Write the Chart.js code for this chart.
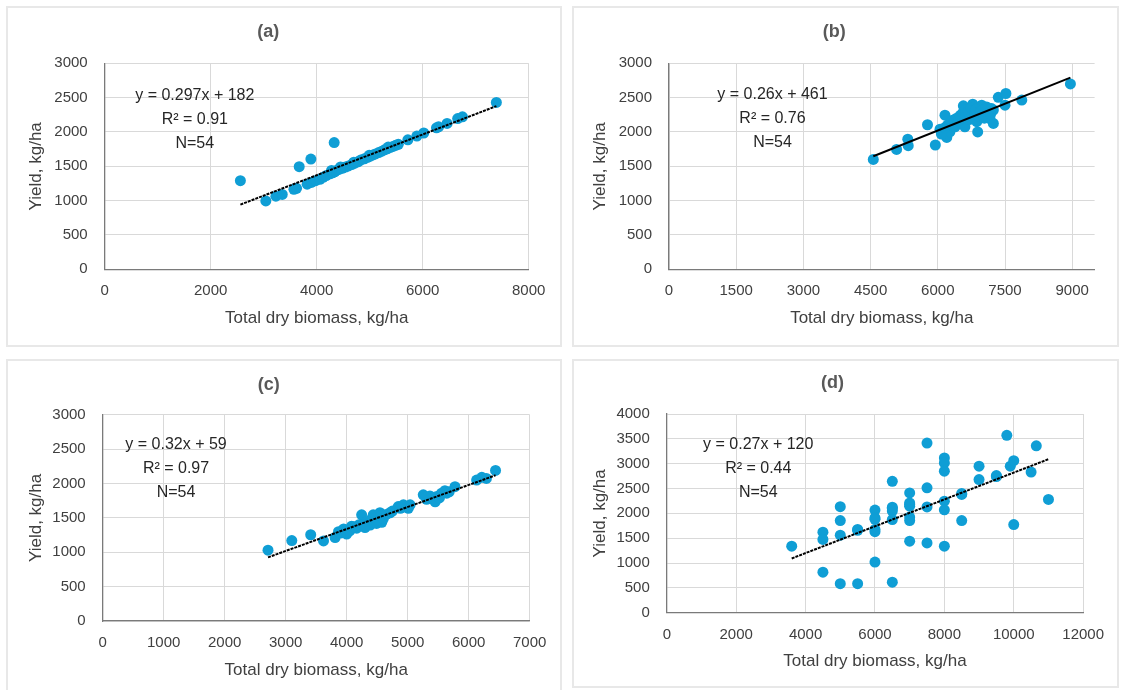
<!DOCTYPE html>
<html>
<head>
<meta charset="utf-8">
<script src="https://cdn.jsdelivr.net/npm/chart.js"></script>
<style>
body { margin:0; background:#fff; width:1121px; height:690px; overflow:hidden; position:relative; }
.panel { position:absolute; border:2px solid #e8e8e8; box-sizing:border-box; }
.panel canvas { display:block; }
</style>
</head>
<body>
<div class="panel" style="left:6px;top:6px;width:556px;height:341px"><canvas id="chartA" width="552" height="337"></canvas></div>
<div class="panel" style="left:572px;top:6px;width:547px;height:341px"><canvas id="chartB" width="543" height="337"></canvas></div>
<div class="panel" style="left:6px;top:359px;width:556px;height:340px"><canvas id="chartC" width="552" height="336"></canvas></div>
<div class="panel" style="left:572px;top:359px;width:547px;height:329px"><canvas id="chartD" width="543" height="325"></canvas></div>
<script>
// panel (a)
const aBiomass = [2560,3040,3230,3350,3570,3620,3670,3890,4330,3820,3900,3980,4060,4120,4180,4250,4300,4340,4370,4420,
  4480,4540,4600,4660,4720,4780,4830,4900,4960,5010,5060,5110,5170,5230,5280,5330,5390,5440,5490,5540,
  5720,5890,6020,6260,6300,6460,6660,6750,7390,4280,4450,4700,4990,5350];
const aYield = [1290,995,1065,1090,1165,1180,1495,1605,1845,1240,1265,1290,1310,1340,1365,1390,1405,1420,1440,1455,
  1470,1490,1505,1525,1545,1565,1590,1610,1630,1650,1665,1680,1700,1720,1740,1755,1775,1790,1805,1820,
  1885,1940,1985,2060,2075,2125,2195,2220,2430,1440,1490,1560,1660,1780];

// panel (b)
const bBiomass = [4560,5080,5330,5340,5770,5945,6050,6160,6120,6200,6270,6385,6345,6570,6530,6605,6645,6780,6795,6870,
  6890,6980,7090,7015,7130,7165,7240,7240,7350,7520,7500,7875,8960,
  6080,6150,6220,6300,6420,6460,6500,6560,6600,6620,6680,6700,6740,6820,6850,6920,6950,7040,7060,7180,7200];
const bYield = [1600,1745,1895,1800,2105,1810,2040,2245,2000,1920,2000,2075,2175,2380,2125,2075,2220,2405,2270,2150,
  2000,2390,2365,2295,2245,2195,2125,2320,2505,2560,2390,2465,2700,
  1970,2060,2100,2150,2200,2160,2240,2280,2200,2320,2300,2180,2350,2260,2330,2230,2300,2200,2330,2260,2340];

// panel (c)
const cBiomass = [2710,3100,3410,3620,3810,3865,3945,4000,4080,4165,4245,4245,4330,4385,4435,4490,4545,4575,4710,4845,
  4930,5040,5010,5255,5310,5365,5450,5475,5555,5610,5640,5775,6130,6215,6290,6440,
  3900,3950,4050,4120,4200,4280,4300,4400,4470,4500,4560,4600,4750,4880,5300,5520,5680,4650];
const cYield = [1030,1170,1255,1165,1215,1300,1325,1265,1380,1350,1545,1400,1445,1395,1545,1420,1575,1435,1575,1665,
  1690,1690,1640,1835,1770,1820,1735,1810,1860,1895,1860,1955,2050,2090,2075,2190,
  1280,1340,1310,1370,1400,1400,1360,1480,1500,1460,1530,1490,1600,1640,1800,1790,1880,1550];

// panel (d)
const dBiomass = [3600,4500,4500,4500,5000,5000,5000,5000,5500,5500,6000,6000,6000,6000,6000,6500,6500,6500,6500,6500,
  7000,7000,7000,7000,7000,7000,7500,7500,7500,7500,8000,8000,8000,8000,8000,8000,8500,8500,9000,9000,
  9500,9800,9900,10000,10000,10500,10650,11000,7000,6500,6000,8500,9500,5500];
const dYield = [1340,1620,1475,815,2135,1855,1560,585,1675,585,2065,1910,1675,1630,1020,2645,2125,2045,1875,615,
  2410,2210,2145,1925,1855,1440,3415,2515,2130,1405,3115,3015,2850,2245,2070,1340,2380,1855,2950,2680,
  2760,3570,2950,3060,1775,2830,3360,2280,2180,2100,1880,2400,2740,1660];

const panelNames = ["(a)", "(b)", "(c)", "(d)"];
const trendSlope = [0.297, 0.26, 0.32, 0.27];
const trendIntercept = [182, 461, 59, 120];
const rSquared = ["0.91", "0.76", "0.97", "0.44"];
const sampleSize = [54, 54, 54, 54];

// axis ticks
const xTicksA = [0, 2000, 4000, 6000, 8000];
const xTicksB = [0, 1500, 3000, 4500, 6000, 7500, 9000];
const xTicksC = [0, 1000, 2000, 3000, 4000, 5000, 6000, 7000];
const xTicksD = [0, 2000, 4000, 6000, 8000, 10000, 12000];
const yTicks3000 = [0, 500, 1000, 1500, 2000, 2500, 3000];
const yTicks4000 = [0, 500, 1000, 1500, 2000, 2500, 3000, 3500, 4000];
const xMax = [8000, 9500, 7000, 12000];

const FONT = "'Liberation Sans', Arial, sans-serif";
const dotBlue = "#0f9ed5";

// layout numbers for each panel, picked to sit the plot where the original has it
const layoutA = {yW: 96.7, xH: 75.7, padR: 31.3, tTop: 13.5, tBot: 20.2, yTitlePad: 18, xTitlePad: 16.5, eqX: 1700, eqY: 2527, dash: [3, 1]};
const layoutB = {yW: 95, xH: 75.7, padR: 22.4, tTop: 13.5, tBot: 20.2, yTitlePad: 16, xTitlePad: 16.5, eqX: 2310, eqY: 2547, dash: []};
const layoutC = {yW: 94.7, xH: 76, padR: 30.3, tTop: 13.2, tBot: 19, yTitlePad: 18, xTitlePad: 16.8, eqX: 1202, eqY: 2562, dash: [3, 1]};
const layoutD = {yW: 92.8, xH: 73.3, padR: 26, tTop: 11.5, tBot: 19.9, yTitlePad: 16, xTitlePad: 14.8, eqX: 2636, eqY: 3390, dash: [3, 1]};

function equationText(i){
  let sign = trendIntercept[i] >= 0 ? " + " : " - ";
  return ["y = " + trendSlope[i] + "x" + sign + Math.abs(trendIntercept[i]),
          "R\u00B2 = " + rSquared[i],
          "N=" + sampleSize[i]];
}

const equationPlugin = {
  id: "equation",
  afterDraw(chart, args, opts){
    let ctx = chart.ctx;
    let x = chart.scales.x.getPixelForValue(opts.x);
    let y = chart.scales.y.getPixelForValue(opts.y);
    ctx.save();
    ctx.font = "16px " + FONT;
    ctx.fillStyle = "#262626";
    ctx.textAlign = "center";
    ctx.textBaseline = "middle";
    opts.lines.forEach(function(line, k){
      ctx.fillText(line, x, y + k * 24);
    });
    ctx.restore();
  }
};

function plainNumber(v){
  return String(v);
}

function makeChart(canvasId, i, xs, ys, xTicks, yTicks, lay){
  let points = xs.map(function(v, k){ return {x: v, y: ys[k]}; });
  let lo = Math.min.apply(null, xs);
  let hi = Math.max.apply(null, xs);
  let trend = [
    {x: lo, y: trendSlope[i] * lo + trendIntercept[i]},
    {x: hi, y: trendSlope[i] * hi + trendIntercept[i]}
  ];

  let config = {
    type: "scatter",
    data: {
      datasets: [{
        data: trend,
        showLine: true,
        pointRadius: 0,
        borderColor: "#000000",
        borderWidth: 2,
        borderDash: lay.dash,
        order: 0
      }, {
        data: points,
        pointRadius: 5.5,
        pointHoverRadius: 5.5,
        pointBackgroundColor: dotBlue,
        pointBorderWidth: 0,
        borderWidth: 0,
        order: 1
      }]
    },
    options: {
      responsive: false,
      animation: false,
      layout: {padding: {top: 0, right: lay.padR, bottom: 0, left: 0}},
      plugins: {
        legend: {display: false},
        tooltip: {enabled: false},
        title: {
          display: true,
          text: panelNames[i],
          color: "#595959",
          font: {family: FONT, size: 18, weight: "bold"},
          padding: {top: lay.tTop, bottom: lay.tBot}
        },
        equation: {x: lay.eqX, y: lay.eqY, lines: equationText(i)}
      },
      scales: {
        x: {
          type: "linear",
          min: 0,
          max: xMax[i],
          afterBuildTicks: function(s){
            s.ticks = xTicks.map(function(v){ return {value: v}; });
          },
          afterFit: function(s){ s.height = lay.xH; },
          ticks: {maxRotation: 0, autoSkip: false, padding: 13, color: "#404040",
                  font: {family: FONT, size: 15}, callback: plainNumber},
          grid: {color: "#d9d9d9", lineWidth: 1, drawTicks: false},
          border: {display: true, color: "#7a7a7a", width: 1.3},
          title: {display: true, text: "Total dry biomass, kg/ha", color: "#404040",
                  font: {family: FONT, size: 17}, padding: {top: 0, bottom: lay.xTitlePad}}
        },
        y: {
          min: 0,
          max: yTicks[yTicks.length - 1],
          afterBuildTicks: function(s){
            s.ticks = yTicks.map(function(v){ return {value: v}; });
          },
          afterFit: function(s){ s.width = lay.yW; },
          ticks: {padding: 17, color: "#404040", font: {family: FONT, size: 15}, callback: plainNumber},
          grid: {color: "#d9d9d9", lineWidth: 1, drawTicks: false},
          border: {display: true, color: "#7a7a7a", width: 1.3},
          title: {display: true, text: "Yield, kg/ha", color: "#404040",
                  font: {family: FONT, size: 17}, padding: {top: lay.yTitlePad, bottom: 0}}
        }
      }
    },
    plugins: [equationPlugin]
  };

  return new Chart(document.getElementById(canvasId), config);
}

makeChart("chartA", 0, aBiomass, aYield, xTicksA, yTicks3000, layoutA);
makeChart("chartB", 1, bBiomass, bYield, xTicksB, yTicks3000, layoutB);
makeChart("chartC", 2, cBiomass, cYield, xTicksC, yTicks3000, layoutC);
makeChart("chartD", 3, dBiomass, dYield, xTicksD, yTicks4000, layoutD);
</script>
</body>
</html>
